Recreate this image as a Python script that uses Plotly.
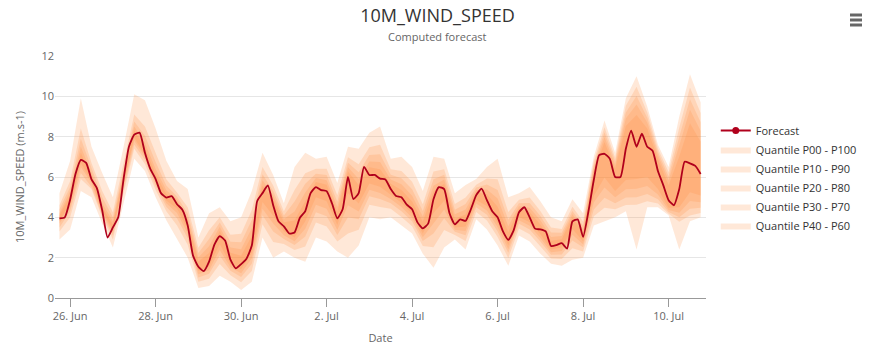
import pandas as pd
import plotly.graph_objects as go

# ---------------- data ----------------
fc_start = "2023-06-25 18:00"
forecast = [3.95, 4.0, 4.88, 6.15, 6.85, 6.7, 5.88, 5.45, 4.35, 3.0, 3.5, 4.0, 5.9, 7.5, 8.1, 8.2,
            7.2, 6.4, 5.9, 5.2, 4.98, 5.05, 4.65, 4.38, 3.6, 2.1, 1.55, 1.33, 1.8, 2.65, 3.07, 2.85,
            1.9, 1.47, 1.68, 1.95, 2.6, 4.8, 5.2, 5.58, 4.6, 3.8, 3.55, 3.2, 3.25, 3.98, 4.3, 5.2,
            5.5, 5.35, 5.3, 4.7, 3.95, 4.4, 6.0, 4.9, 5.2, 6.5, 6.1, 6.1, 5.92, 5.88, 5.4, 5.06,
            5.0, 4.63, 4.4, 3.75, 3.45, 3.69, 4.9, 5.5, 5.4, 4.2, 3.65, 3.9, 3.82, 4.4, 5.1, 5.42,
            4.85, 4.3, 4.0, 3.3, 2.88, 3.35, 4.25, 4.5, 4.0, 3.44, 3.4, 3.3, 2.58, 2.62, 2.72, 2.45,
            3.8, 3.9, 3.03, 4.3, 5.85, 7.08, 7.15, 6.9, 6.0, 6.0, 7.4, 8.3, 7.5, 8.15, 7.5, 7.3,
            6.3, 5.6, 4.85, 4.6, 5.4, 6.76, 6.68, 6.55, 6.15]

band_start = "2023-06-25 18:00"
p00 = [2.9, 3.4, 5.3, 5.0, 3.7, 2.5, 4.7, 6.9, 6.3, 5.0, 3.85, 2.9, 2.0, 0.5, 0.6, 1.1, 0.8, 0.4,
       0.8, 3.0, 2.0, 2.3, 2.0, 1.8, 3.0, 2.8, 2.3, 2.0, 2.6, 4.0, 3.9, 4.0, 3.6, 3.2, 2.2, 1.5,
       2.5, 2.9, 2.4, 3.9, 3.4, 2.6, 1.6, 3.1, 2.8, 2.2, 1.7, 1.6, 1.9, 2.0, 3.6, 3.8, 4.0, 4.3,
       2.4, 4.5, 4.5, 4.1, 2.4, 3.8, 4.0]
p100 = [5.2, 6.8, 9.9, 7.5, 6.2, 5.0, 7.5, 10.1, 9.8, 8.4, 6.8, 5.8, 5.4, 3.0, 4.2, 4.5, 3.8, 4.0,
        5.3, 7.2, 6.1, 4.7, 6.5, 7.2, 6.9, 7.0, 5.7, 7.5, 7.4, 8.2, 8.5, 6.9, 7.0, 6.5, 5.3, 7.0,
        6.9, 5.2, 5.6, 5.9, 6.5, 6.9, 5.0, 5.2, 5.5, 4.8, 4.0, 3.8, 4.9, 4.2, 7.0, 8.8, 7.2, 9.9,
        11.0, 9.5, 7.6, 6.5, 9.0, 11.1, 9.7]
p10 = [3.3, 4.0, 5.9, 5.4, 4.0, 2.9, 5.2, 7.4, 6.65, 5.35, 4.3, 3.6, 2.64, 0.81, 0.96, 1.69, 1.13,
       0.78, 1.34, 3.66, 2.78, 2.68, 2.38, 2.55, 3.75, 3.55, 2.8, 3.2, 3.38, 4.63, 4.51, 4.42, 4.02,
       3.56, 2.58, 2.52, 3.37, 3.13, 2.83, 4.26, 3.84, 3.02, 1.98, 3.45, 3.16, 2.56, 1.96, 1.94,
       2.47, 2.31, 4.05, 4.47, 4.4, 4.61, 4.62, 4.8, 4.68, 4.18, 3.78, 4.09, 4.22]
p90 = [4.6, 5.8, 8.4, 6.7, 5.3, 4.25, 6.7, 9.1, 8.5, 7.15, 5.89, 5.23, 4.5, 2.49, 3.36, 4.0, 3.14,
       3.19, 4.36, 6.5, 5.58, 4.3, 5.36, 6.19, 6.41, 6.41, 5.09, 6.98, 6.63, 7.47, 7.6, 6.38, 6.3,
       5.77, 4.65, 6.27, 6.38, 4.66, 4.98, 5.62, 5.92, 5.89, 4.26, 4.87, 4.98, 4.31, 3.5, 3.42,
       4.52, 3.79, 6.77, 8.47, 6.96, 9.53, 10.48, 9.2, 7.41, 6.25, 8.46, 10.44, 9.17]
p20 = [3.5, 4.3, 6.2, 5.5, 4.1, 3.1, 5.4, 7.6, 6.85, 5.55, 4.53, 3.95, 2.96, 1.02, 1.2, 2.09, 1.35,
       1.04, 1.7, 4.1, 3.3, 2.93, 2.63, 3.05, 4.25, 4.05, 3.13, 4.0, 3.9, 5.05, 4.91, 4.7, 4.3, 3.8,
       2.83, 3.2, 3.95, 3.28, 3.11, 4.5, 4.13, 3.3, 2.24, 3.68, 3.4, 2.8, 2.14, 2.16, 2.85, 2.52,
       4.39, 4.97, 4.7, 4.98, 5.0, 5.16, 4.9, 4.27, 4.0, 4.43, 4.47]
p80 = [4.4, 5.5, 7.9, 6.4, 5.0, 4.0, 6.45, 8.75, 8.05, 6.75, 5.58, 5.03, 4.19, 2.23, 2.93, 3.74,
       2.79, 2.77, 3.87, 6.14, 5.31, 4.09, 4.78, 5.66, 6.16, 6.1, 4.77, 6.71, 6.23, 7.09, 7.13, 6.11,
       5.94, 5.39, 4.32, 5.89, 6.11, 4.38, 4.66, 5.48, 5.63, 5.36, 3.88, 4.7, 4.71, 4.06, 3.25, 3.23,
       4.32, 3.58, 6.6, 8.22, 6.78, 9.2, 10.02, 8.94, 7.24, 6.04, 7.99, 9.86, 8.71]
p30 = [3.7, 4.5, 6.5, 5.7, 4.2, 3.25, 5.6, 7.8, 7.0, 5.7, 4.7, 4.21, 3.2, 1.18, 1.38, 2.38, 1.52,
       1.23, 1.97, 4.43, 3.69, 3.11, 2.81, 3.43, 4.63, 4.43, 3.37, 4.6, 4.29, 5.37, 5.21, 4.91, 4.51,
       3.98, 3.01, 3.71, 4.39, 3.39, 3.32, 4.68, 4.34, 3.51, 2.43, 3.85, 3.58, 2.98, 2.27, 2.33,
       3.14, 2.67, 4.73, 5.48, 5.0, 5.39, 5.42, 5.55, 5.13, 4.36, 4.23, 4.81, 4.75]
p70 = [4.2, 5.3, 7.5, 6.2, 4.7, 3.8, 6.2, 8.5, 7.7, 6.4, 5.34, 4.88, 3.96, 2.01, 2.57, 3.53, 2.51,
       2.42, 3.46, 5.84, 5.08, 3.92, 4.29, 5.23, 5.95, 5.84, 4.51, 6.48, 5.9, 6.77, 6.75, 5.88, 5.64,
       5.07, 4.04, 5.57, 5.88, 4.15, 4.39, 5.36, 5.38, 4.93, 3.56, 4.55, 4.48, 3.85, 3.03, 3.07,
       4.15, 3.4, 6.43, 7.98, 6.6, 8.9, 9.6, 8.7, 7.08, 5.84, 7.56, 9.33, 8.28]
p40 = [3.8, 4.7, 6.7, 5.8, 4.3, 3.4, 5.75, 7.95, 7.1, 5.8, 4.84, 4.44, 3.41, 1.34, 1.56, 2.68,
       1.68, 1.42, 2.24, 4.76, 4.08, 3.3, 3.0, 3.8, 5.0, 4.8, 3.62, 5.2, 4.68, 5.68, 5.52, 5.12,
       4.72, 4.16, 3.2, 4.22, 4.82, 3.5, 3.54, 4.86, 4.56, 3.72, 2.62, 4.02, 3.76, 3.16, 2.4, 2.5,
       3.42, 2.82, 5.06, 5.98, 5.3, 5.85, 5.9, 6.0, 5.4, 4.48, 4.5, 5.24, 5.08]
p60 = [4.1, 5.1, 7.2, 6.0, 4.5, 3.65, 6.05, 8.3, 7.45, 6.15, 5.16, 4.77, 3.78, 1.81, 2.23, 3.33,
       2.24, 2.1, 3.09, 5.56, 4.87, 3.76, 3.84, 4.82, 5.75, 5.61, 4.27, 6.27, 5.6, 6.48, 6.38, 5.67,
       5.36, 4.78, 3.78, 5.28, 5.67, 3.93, 4.14, 5.24, 5.15, 4.52, 3.26, 4.42, 4.27, 3.65, 2.84,
       2.91, 4.0, 3.24, 6.25, 7.73, 6.42, 8.53, 9.08, 8.4, 6.89, 5.59, 7.02, 8.67, 7.75]

band_names = ["Quantile P00 - P100", "Quantile P10 - P90", "Quantile P20 - P80",
              "Quantile P30 - P70", "Quantile P40 - P60"]
band_lows = [p00, p10, p20, p30, p40]
band_highs = [p100, p90, p80, p70, p60]

x_fc = pd.date_range(fc_start, periods=len(forecast), freq="3h")
x_band = pd.date_range(band_start, periods=len(p00), freq="6h")

FONT = "Open Sans"
band_fill = "rgba(253,141,60,0.2)"
line_col = "#b0001c"

fig = go.Figure()
fig.add_trace(go.Scatter(x=[None], y=[None], mode="lines+markers", name="Forecast",
                         line=dict(color=line_col, width=2),
                         marker=dict(color=line_col, size=7)))
for name, lo, hi in zip(band_names, band_lows, band_highs):
    fig.add_trace(go.Scatter(x=x_band, y=lo, mode="lines", line=dict(width=0),
                             showlegend=False, hoverinfo="skip", legendgroup=name))
    fig.add_trace(go.Scatter(x=x_band, y=hi, mode="lines", line=dict(width=0),
                             fill="tonexty", fillcolor=band_fill, name=name,
                             legendgroup=name, hoverinfo="skip"))

fig.add_trace(go.Scatter(x=x_fc, y=forecast, mode="lines", name="Forecast",
                         line=dict(color=line_col, width=1.8, shape="spline", smoothing=0.5),
                         showlegend=False))

fig.update_layout(
    width=875, height=352,
    margin=dict(l=55, r=169, t=56, b=54, autoexpand=False),
    paper_bgcolor="white", plot_bgcolor="white",
    font=dict(family=FONT, size=11, color="#666666"),
    title=dict(text="10M_WIND_SPEED", x=437.5 / 875, xref="container", xanchor="center",
               y=0.955, yref="container", yanchor="middle",
               font=dict(family=FONT, size=18, color="#333333")),
    showlegend=True,
    legend=dict(x=1.015, xanchor="left", y=0.752, yanchor="top",
                font=dict(family=FONT, size=11, color="#333333"),
                bgcolor="rgba(0,0,0,0)", tracegroupgap=0, itemwidth=30),
    hovermode=False,
)

fig.add_annotation(text="Computed forecast", xref="paper", yref="paper",
                   x=(437.5 - 55) / 651, y=(298 - 37) / 242, showarrow=False,
                   xanchor="center", yanchor="middle",
                   font=dict(family=FONT, size=11, color="#666666"))

fig.update_xaxes(
    type="date", automargin=False,
    range=["2023-06-25 15:30", "2023-07-10 21:00"],
    tick0="2023-06-26", dtick=2 * 86400000, tickformat="%-d. %b",
    ticks="outside", ticklen=8, tickcolor="#999999", tickwidth=1,
    showline=True, linecolor="#999999", linewidth=1,
    showgrid=False, zeroline=False,
    tickfont=dict(family=FONT, size=11, color="#666666"),
    title=dict(text="Date", font=dict(family=FONT, size=11, color="#666666"), standoff=12),
)
fig.update_yaxes(
    range=[0, 12], dtick=2, tick0=0, automargin=False,
    showgrid=True, gridcolor="#e6e6e6", gridwidth=1,
    zeroline=False, showline=False, ticks="",
    tickfont=dict(family=FONT, size=11, color="#666666"),
    title=dict(text="10M_WIND_SPEED (m.s-1)", font=dict(family=FONT, size=11, color="#666666"),
               standoff=14),
)

# hamburger menu icon
for yy in (15, 20, 25):
    fig.add_shape(type="line", xref="paper", yref="paper",
                  x0=(850 - 55) / 651, x1=(862 - 55) / 651,
                  y0=(298 - yy) / 242, y1=(298 - yy) / 242,
                  line=dict(color="#666666", width=3))

fig.write_html("out.html", config={"displayModeBar": False})
